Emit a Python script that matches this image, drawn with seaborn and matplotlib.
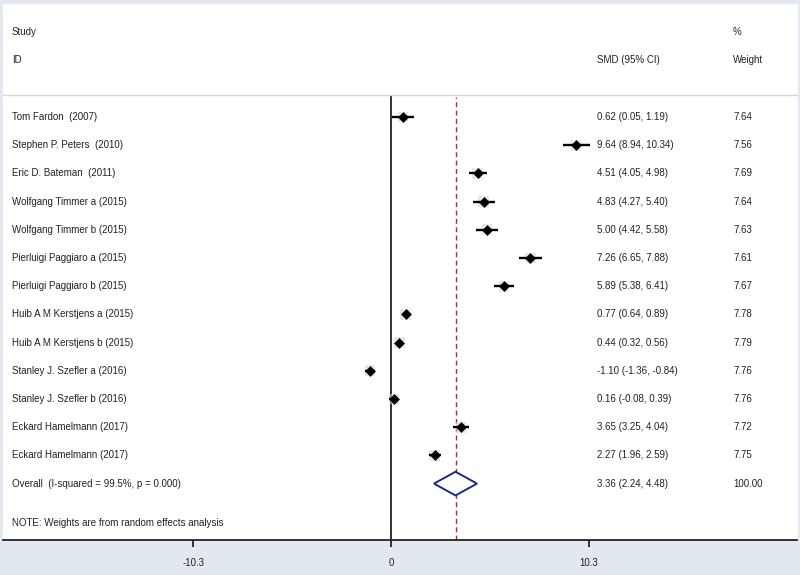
import matplotlib
matplotlib.use("Agg")
import matplotlib.pyplot as plt
from matplotlib.patches import Rectangle
import seaborn as sns
import pandas as pd

studies = ["Tom Fardon  (2007)", "Stephen P. Peters  (2010)", "Eric D. Bateman  (2011)",
           "Wolfgang Timmer a (2015)", "Wolfgang Timmer b (2015)", "Pierluigi Paggiaro a (2015)",
           "Pierluigi Paggiaro b (2015)", "Huib A M Kerstjens a (2015)", "Huib A M Kerstjens b (2015)",
           "Stanley J. Szefler a (2016)", "Stanley J. Szefler b (2016)", "Eckard Hamelmann (2017)",
           "Eckard Hamelmann (2017)"]
smd = [0.62, 9.64, 4.51, 4.83, 5.00, 7.26, 5.89, 0.77, 0.44, -1.10, 0.16, 3.65, 2.27]
lo = [0.05, 8.94, 4.05, 4.27, 4.42, 6.65, 5.38, 0.64, 0.32, -1.36, -0.08, 3.25, 1.96]
hi = [1.19, 10.34, 4.98, 5.40, 5.58, 7.88, 6.41, 0.89, 0.56, -0.84, 0.39, 4.04, 2.59]
weight = ["7.64", "7.56", "7.69", "7.64", "7.63", "7.61", "7.67", "7.78", "7.79", "7.76", "7.76", "7.72", "7.75"]
overall_label = "Overall  (I-squared = 99.5%, p = 0.000)"
overall = [3.36, 2.24, 4.48]
overall_weight = "100.00"
tick_vals = [-10.3, 0, 10.3]
tick_labels = ["-10.3", "0", "10.3"]
note = "NOTE: Weights are from random effects analysis"

sns.set_theme(style="white")
plt.rcParams["font.family"] = ["Liberation Sans", "DejaVu Sans"]

W, H = 800, 575
fig = plt.figure(figsize=(8, 5.75), dpi=100)
fig.patch.set_facecolor("#e1e9ef")
fig.patches.append(Rectangle((2 / W, 1 - 540 / H), 796 / W, 537 / H, transform=fig.transFigure,
                             facecolor="white", edgecolor="#e6ecf0", lw=1, zorder=-10))

ax_l, ax_r, ax_t, ax_b = 3, 797, 95, 540
ax = fig.add_axes([ax_l / W, 1 - ax_b / H, (ax_r - ax_l) / W, (ax_b - ax_t) / H])
ax.set_zorder(5)
ax.set_facecolor("none")

px_per_unit = 19.2
zero_px = 391
ax.set_xlim((ax_l - zero_px) / px_per_unit, (ax_r - zero_px) / px_per_unit)
row0, rowstep = 117, 28.2
ax.set_ylim((ax_b - row0) / rowstep, (ax_t - row0) / rowstep)

df = pd.DataFrame({"study": studies, "smd": smd, "lo": lo, "hi": hi, "row": range(len(studies))})

# weight boxes (faint grey)
sns.scatterplot(data=df, x="smd", y="row", marker="s", s=60, color="#d6d6d6", edgecolor="none",
                alpha=0.6, ax=ax, zorder=2, legend=False)
ax.hlines(df["row"], df["lo"], df["hi"], color="black", lw=1.7, zorder=3)
sns.scatterplot(data=df, x="smd", y="row", marker="D", s=26, color="black", edgecolor="black",
                ax=ax, zorder=4, legend=False)

# overall diamond
orow = len(studies)
est, olo, ohi = overall
dh = 0.42
ax.fill([olo, est, ohi, est, olo], [orow, orow - dh, orow, orow + dh, orow],
        facecolor="white", edgecolor="#1f2b80", lw=1.4, zorder=5)

# reference lines
ax.axvline(0, color="#222222", lw=1.3, zorder=1)
ax.axvline(est, ymax=(ax_b - 97) / (ax_b - ax_t), color="#b02a35", lw=1.0,
           ls=(0, (3.5, 2.5)), zorder=1)

# spines / ticks
for s in ["left", "right"]:
    ax.spines[s].set_visible(False)
ax.spines["top"].set_color("#d2d8dc")
ax.spines["top"].set_linewidth(1.0)
ax.spines["bottom"].set_color("#222222")
ax.spines["bottom"].set_linewidth(1.3)
ax.set_yticks([])
ax.set_xticks(tick_vals)
ax.set_xticklabels(tick_labels)
ax.tick_params(axis="x", direction="out", length=5, width=1.3, color="#222222",
               pad=8, labelsize=7, labelcolor="#222222", bottom=True)
ax.set_xlabel("")
ax.set_ylabel("")

# text columns
tr = ax.get_yaxis_transform()
def axfrac(px):
    return (px - ax_l) / (ax_r - ax_l)
fs = 7
tc = "#222222"
for i, (name, m, l, h, w) in enumerate(zip(studies, smd, lo, hi, weight)):
    ax.text(axfrac(12), i, name, transform=tr, fontsize=fs, va="center", ha="left", color=tc)
    ax.text(axfrac(597), i, f"{m:.2f} ({l:.2f}, {h:.2f})", transform=tr, fontsize=fs,
            va="center", ha="left", color=tc)
    ax.text(axfrac(733), i, w, transform=tr, fontsize=fs, va="center", ha="left", color=tc)
ax.text(axfrac(12), orow, overall_label, transform=tr, fontsize=fs, va="center", ha="left", color=tc)
ax.text(axfrac(597), orow, f"{est:.2f} ({olo:.2f}, {ohi:.2f})", transform=tr, fontsize=fs,
        va="center", ha="left", color=tc)
ax.text(axfrac(733), orow, overall_weight, transform=tr, fontsize=fs, va="center", ha="left", color=tc)
ax.text(axfrac(12), (523 - row0) / rowstep, note, transform=tr, fontsize=fs, va="center",
        ha="left", color=tc)

# headers
for x, y, t in [(12, 32, "Study"), (12, 60, "ID"), (597, 60, "SMD (95% CI)"),
                (733, 32, "%"), (733, 60, "Weight")]:
    fig.text(x / W, 1 - y / H, t, fontsize=fs, va="center", ha="left", color=tc)

fig.savefig("out.png", dpi=100, facecolor=fig.get_facecolor())
